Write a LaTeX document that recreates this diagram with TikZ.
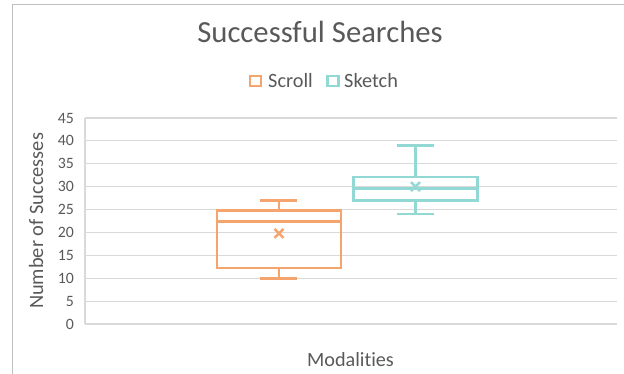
\documentclass[tikz,border=0pt]{standalone}
\usepackage{fontspec}
\setmainfont{Carlito}[Ligatures=NoCommon]
\usetikzlibrary{positioning}

\definecolor{scrollc}{HTML}{F4A46C}
\definecolor{sketchc}{HTML}{92D9D6}
\definecolor{textc}{HTML}{595959}
\definecolor{gridc}{HTML}{D9D9D9}
\definecolor{framec}{HTML}{BFBFBF}

\begin{document}
\begin{tikzpicture}[
    x=1pt, y=1pt,
    every node/.style={text=textc, inner sep=0pt},
    grid/.style={gridc, line width=1.2pt},
    boxline/.style={line width=2.6pt},
    legkey/.style={draw=#1, line width=2.4pt, minimum width=11pt, minimum height=10.5pt},
    tick/.style={font=\fontsize{15.8}{18}\selectfont, anchor=east},
    ]
\useasboundingbox (0,0) rectangle (624,374);

% Cadre
\draw[framec, line width=1pt] (12,-5) -- (12,369) -- (630,369);

% Titre et légende
\node[anchor=base, font=\fontsize{30.7}{36}\selectfont] (title) at (320,331) {Successful Searches};
\node[legkey=scrollc] (scrollkey) at (255.5,293) {};
\node[anchor=base west, font=\fontsize{20.3}{24}\selectfont] (scrolltxt) at (268,286) {Scroll};
\node[legkey=sketchc] (sketchkey) at (333,293) {};
\node[anchor=base west, font=\fontsize{20.3}{24}\selectfont] (sketchtxt) at (344,286) {Sketch};

% Axes
\node[rotate=90, font=\fontsize{20.4}{24}\selectfont] (ylabel) at (36,153) {Number of Successes};
\node[anchor=base, font=\fontsize{20.2}{24}\selectfont] (xlabel) at (350.5,7) {Modalities};

\begin{scope}[shift={(85,50)}, y=4.578pt]
% Grille
\foreach \v in {0,5,...,45} {
    \draw[grid] (0,\v) -- (532,\v);
    \node[tick] (lab\v) at (-11,\v) {\v};
}
\draw[grid] (0,0) -- (0,45);

% Scroll
\begin{scope}[scrollc, boxline]
\draw (132,12.2) rectangle (256,24.75);
\draw (132,22.4) -- (256,22.4);
\draw (194,24.75) -- (194,27) (175,27) -- (212,27);
\draw (194,12.2) -- (194,10) (175,10) -- (212,10);
\draw (194,19.8) +(-4.5pt,-4.5pt) -- +(4.5pt,4.5pt) +(-4.5pt,4.5pt) -- +(4.5pt,-4.5pt);
\end{scope}

% Sketch
\begin{scope}[sketchc, boxline]
\draw (268.3,27) rectangle (392.7,32.1);
\draw (268.3,29.6) -- (392.7,29.6);
\draw (330.5,32.1) -- (330.5,39) (312.3,39) -- (348.7,39);
\draw (330.5,27) -- (330.5,24) (312.3,24) -- (348.7,24);
\draw (330.5,30) +(-4.5pt,-4.5pt) -- +(4.5pt,4.5pt) +(-4.5pt,4.5pt) -- +(4.5pt,-4.5pt);
\end{scope}
\end{scope}

\end{tikzpicture}
\end{document}
